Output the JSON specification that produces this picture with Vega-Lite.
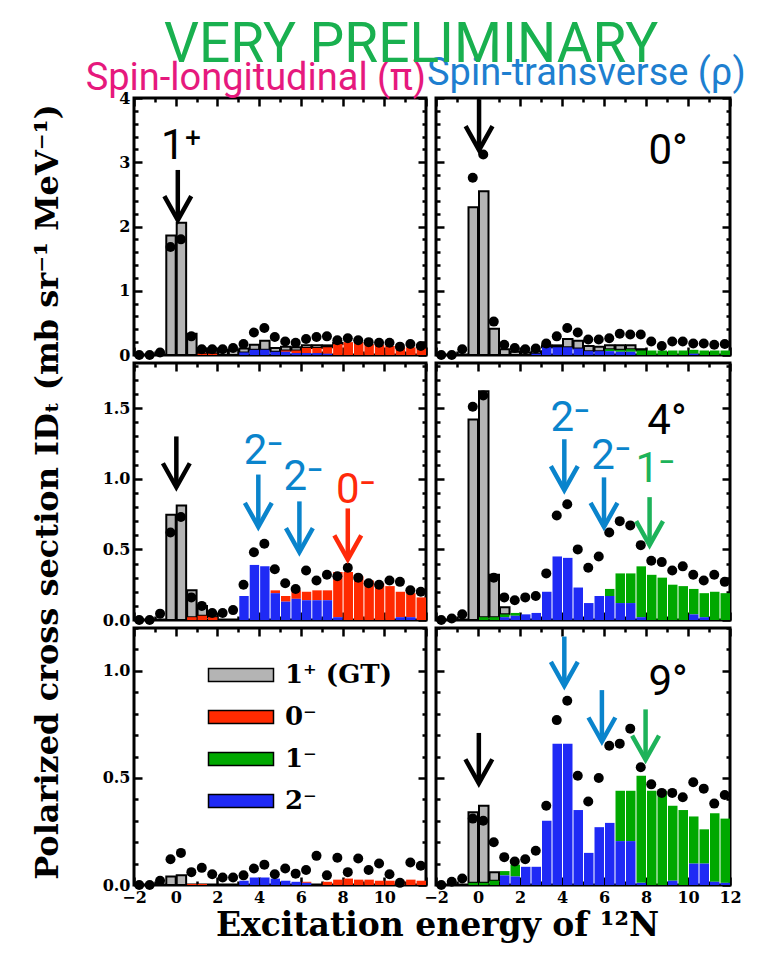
{
"$schema":"https://vega.github.io/schema/vega-lite/v6.json",
"background":"white",
"padding":{"left":29,"top":18,"right":2,"bottom":10},
"bounds":"flush",
"columns":2,
"spacing":{"row":8,"column":10},
"title":{"text":"VERY PRELIMINARY","font":"Roboto","fontSize":55,"fontWeight":"normal","color":"#19b04f","anchor":"start","frame":"group","dx":30,"offset":-21},
"resolve":{"scale":{"fill":"independent","stroke":"independent","color":"independent"}},
"datasets":{
"bins":[
{"p":"0L","lo":-0.5,"hi":0,"GT":1.86},{"p":"0L","lo":0,"hi":0.5,"GT":2.06},{"p":"0L","lo":0.5,"hi":1,"GT":0.33},{"p":"0L","lo":1,"hi":1.5,"GT":0.08,"J0":0.02},{"p":"0L","lo":1.5,"hi":2,"GT":0.07,"J0":0.02},{"p":"0L","lo":2,"hi":2.5,"GT":0.08},{"p":"0L","lo":2.5,"hi":3,"GT":0.08},{"p":"0L","lo":3,"hi":3.5,"GT":0.06,"J2":0.04},{"p":"0L","lo":3.5,"hi":4,"GT":0.08,"J2":0.08},{"p":"0L","lo":4,"hi":4.5,"GT":0.14,"J2":0.08},{"p":"0L","lo":4.5,"hi":5,"GT":0.06,"J2":0.05},{"p":"0L","lo":5,"hi":5.5,"GT":0.06,"J0":0.02,"J2":0.05},{"p":"0L","lo":5.5,"hi":6,"GT":0.05,"J0":0.04,"J2":0.03},{"p":"0L","lo":6,"hi":6.5,"GT":0.04,"J0":0.08,"J2":0.03},{"p":"0L","lo":6.5,"hi":7,"GT":0.04,"J0":0.08,"J2":0.03},{"p":"0L","lo":7,"hi":7.5,"GT":0.03,"J0":0.1,"J2":0.02},{"p":"0L","lo":7.5,"hi":8,"GT":0.02,"J0":0.17},{"p":"0L","lo":8,"hi":8.5,"J0":0.2},{"p":"0L","lo":8.5,"hi":9,"J0":0.2},{"p":"0L","lo":9,"hi":9.5,"J0":0.17},{"p":"0L","lo":9.5,"hi":10,"J0":0.16},{"p":"0L","lo":10,"hi":10.5,"J0":0.14},{"p":"0L","lo":10.5,"hi":11,"J0":0.12},{"p":"0L","lo":11,"hi":11.5,"J0":0.12},{"p":"0L","lo":11.5,"hi":12,"J0":0.1},
{"p":"0R","lo":-0.5,"hi":0,"GT":2.3},{"p":"0R","lo":0,"hi":0.5,"GT":2.55},{"p":"0R","lo":0.5,"hi":1,"GT":0.41},{"p":"0R","lo":1,"hi":1.5,"GT":0.09},{"p":"0R","lo":1.5,"hi":2,"GT":0.05},{"p":"0R","lo":2,"hi":2.5,"GT":0.04},{"p":"0R","lo":2.5,"hi":3,"GT":0.04,"J2":0.02},{"p":"0R","lo":3,"hi":3.5,"GT":0.03,"J2":0.12},{"p":"0R","lo":3.5,"hi":4,"GT":0.03,"J2":0.12},{"p":"0R","lo":4,"hi":4.5,"GT":0.13,"J2":0.12},{"p":"0R","lo":4.5,"hi":5,"GT":0.12,"J2":0.1},{"p":"0R","lo":5,"hi":5.5,"GT":0.08,"J2":0.06},{"p":"0R","lo":5.5,"hi":6,"GT":0.07,"J2":0.06},{"p":"0R","lo":6,"hi":6.5,"GT":0.06,"J1":0.03,"J2":0.06},{"p":"0R","lo":6.5,"hi":7,"GT":0.07,"J1":0.03,"J2":0.05},{"p":"0R","lo":7,"hi":7.5,"GT":0.06,"J1":0.04,"J2":0.05},{"p":"0R","lo":7.5,"hi":8,"GT":0.02,"J1":0.07},{"p":"0R","lo":8,"hi":8.5,"J1":0.07},{"p":"0R","lo":8.5,"hi":9,"J1":0.07},{"p":"0R","lo":9,"hi":9.5,"J1":0.07},{"p":"0R","lo":9.5,"hi":10,"J1":0.07},{"p":"0R","lo":10,"hi":10.5,"J1":0.06,"J2":0.02},{"p":"0R","lo":10.5,"hi":11,"J1":0.07},{"p":"0R","lo":11,"hi":11.5,"J1":0.07},{"p":"0R","lo":11.5,"hi":12,"J1":0.07},
{"p":"4L","lo":-0.5,"hi":0,"GT":0.745},{"p":"4L","lo":0,"hi":0.5,"GT":0.81},{"p":"4L","lo":0.5,"hi":1,"GT":0.19,"J0":0.02},{"p":"4L","lo":1,"hi":1.5,"GT":0.07,"J0":0.03},{"p":"4L","lo":1.5,"hi":2,"GT":0.02,"J0":0.02},{"p":"4L","lo":3,"hi":3.5,"J2":0.17},{"p":"4L","lo":3.5,"hi":4,"J2":0.39},{"p":"4L","lo":4,"hi":4.5,"J2":0.38},{"p":"4L","lo":4.5,"hi":5,"J2":0.19,"J0":0.02},{"p":"4L","lo":5,"hi":5.5,"J2":0.13,"J0":0.04},{"p":"4L","lo":5.5,"hi":6,"J2":0.15,"J0":0.06},{"p":"4L","lo":6,"hi":6.5,"J2":0.14,"J0":0.06},{"p":"4L","lo":6.5,"hi":7,"J2":0.14,"J0":0.07},{"p":"4L","lo":7,"hi":7.5,"J2":0.14,"J0":0.07},{"p":"4L","lo":7.5,"hi":8,"J2":0.02,"J0":0.32},{"p":"4L","lo":8,"hi":8.5,"J0":0.34},{"p":"4L","lo":8.5,"hi":9,"J0":0.31},{"p":"4L","lo":9,"hi":9.5,"J0":0.28},{"p":"4L","lo":9.5,"hi":10,"J0":0.26},{"p":"4L","lo":10,"hi":10.5,"J0":0.24},{"p":"4L","lo":10.5,"hi":11,"J0":0.18,"J2":0.02},{"p":"4L","lo":11,"hi":11.5,"J0":0.17,"J2":0.02},{"p":"4L","lo":11.5,"hi":12,"J0":0.16},
{"p":"4R","lo":-0.5,"hi":0,"GT":1.42},{"p":"4R","lo":0,"hi":0.5,"GT":1.6,"J1":0.02},{"p":"4R","lo":0.5,"hi":1,"GT":0.3,"J1":0.02},{"p":"4R","lo":1,"hi":1.5,"GT":0.05,"J1":0.02,"J2":0.02},{"p":"4R","lo":1.5,"hi":2,"J1":0.02,"J2":0.03},{"p":"4R","lo":2,"hi":2.5,"J2":0.04},{"p":"4R","lo":2.5,"hi":3,"J2":0.05},{"p":"4R","lo":3,"hi":3.5,"J2":0.2},{"p":"4R","lo":3.5,"hi":4,"J2":0.45},{"p":"4R","lo":4,"hi":4.5,"J2":0.44},{"p":"4R","lo":4.5,"hi":5,"J2":0.23},{"p":"4R","lo":5,"hi":5.5,"J2":0.12},{"p":"4R","lo":5.5,"hi":6,"J2":0.17},{"p":"4R","lo":6,"hi":6.5,"J2":0.17,"J1":0.05},{"p":"4R","lo":6.5,"hi":7,"J2":0.12,"J1":0.21},{"p":"4R","lo":7,"hi":7.5,"J2":0.12,"J1":0.21},{"p":"4R","lo":7.5,"hi":8,"J2":0.02,"J1":0.36},{"p":"4R","lo":8,"hi":8.5,"J1":0.32},{"p":"4R","lo":8.5,"hi":9,"J1":0.3},{"p":"4R","lo":9,"hi":9.5,"J1":0.25},{"p":"4R","lo":9.5,"hi":10,"J1":0.24},{"p":"4R","lo":10,"hi":10.5,"J1":0.18,"J2":0.04},{"p":"4R","lo":10.5,"hi":11,"J1":0.17,"J2":0.02},{"p":"4R","lo":11,"hi":11.5,"J1":0.2},{"p":"4R","lo":11.5,"hi":12,"J1":0.19},
{"p":"9L","lo":-0.5,"hi":0,"GT":0.04},{"p":"9L","lo":0,"hi":0.5,"GT":0.045},{"p":"9L","lo":0.5,"hi":1,"J0":0.005},{"p":"9L","lo":1,"hi":1.5,"J0":0.005},{"p":"9L","lo":3,"hi":3.5,"J2":0.02},{"p":"9L","lo":3.5,"hi":4,"J2":0.035},{"p":"9L","lo":4,"hi":4.5,"J2":0.035},{"p":"9L","lo":4.5,"hi":5,"J2":0.03},{"p":"9L","lo":5,"hi":5.5,"J2":0.02},{"p":"9L","lo":5.5,"hi":6,"J2":0.015},{"p":"9L","lo":6,"hi":6.5,"J2":0.01,"J0":0.005},{"p":"9L","lo":7,"hi":7.5,"J0":0.015},{"p":"9L","lo":7.5,"hi":8,"J0":0.025},{"p":"9L","lo":8,"hi":8.5,"J0":0.03},{"p":"9L","lo":8.5,"hi":9,"J0":0.025},{"p":"9L","lo":9,"hi":9.5,"J0":0.025},{"p":"9L","lo":9.5,"hi":10,"J0":0.02},{"p":"9L","lo":10,"hi":10.5,"J0":0.02},{"p":"9L","lo":10.5,"hi":11,"J0":0.02},{"p":"9L","lo":11,"hi":11.5,"J0":0.025},{"p":"9L","lo":11.5,"hi":12,"J0":0.02},
{"p":"9R","lo":-0.5,"hi":0,"GT":0.33,"J1":0.01},{"p":"9R","lo":0,"hi":0.5,"GT":0.36,"J1":0.01},{"p":"9R","lo":0.5,"hi":1,"GT":0.04,"J1":0.02},{"p":"9R","lo":1,"hi":1.5,"J2":0.045,"J1":0.02},{"p":"9R","lo":1.5,"hi":2,"J2":0.04,"J1":0.055},{"p":"9R","lo":2,"hi":2.5,"J2":0.085},{"p":"9R","lo":2.5,"hi":3,"J2":0.085},{"p":"9R","lo":3,"hi":3.5,"J2":0.3},{"p":"9R","lo":3.5,"hi":4,"J2":0.66},{"p":"9R","lo":4,"hi":4.5,"J2":0.66},{"p":"9R","lo":4.5,"hi":5,"J2":0.35},{"p":"9R","lo":5,"hi":5.5,"J2":0.15},{"p":"9R","lo":5.5,"hi":6,"J2":0.27},{"p":"9R","lo":6,"hi":6.5,"J2":0.29},{"p":"9R","lo":6.5,"hi":7,"J2":0.205,"J1":0.235},{"p":"9R","lo":7,"hi":7.5,"J2":0.205,"J1":0.235},{"p":"9R","lo":7.5,"hi":8,"J2":0.01,"J1":0.5},{"p":"9R","lo":8,"hi":8.5,"J1":0.44},{"p":"9R","lo":8.5,"hi":9,"J1":0.44},{"p":"9R","lo":9,"hi":9.5,"J2":0.02,"J1":0.35},{"p":"9R","lo":9.5,"hi":10,"J1":0.35},{"p":"9R","lo":10,"hi":10.5,"J2":0.1,"J1":0.22},{"p":"9R","lo":10.5,"hi":11,"J2":0.1,"J1":0.16},{"p":"9R","lo":11,"hi":11.5,"J2":0.015,"J1":0.32},{"p":"9R","lo":11.5,"hi":12,"J2":0.01,"J1":0.3}
],
"dots":[
{"p":"0L","e":-1.75,"v":0},{"p":"0L","e":-1.25,"v":0},{"p":"0L","e":-0.75,"v":0.04},{"p":"0L","e":-0.25,"v":1.68},{"p":"0L","e":0.25,"v":1.8},{"p":"0L","e":0.75,"v":0.29},{"p":"0L","e":1.25,"v":0.09},{"p":"0L","e":1.75,"v":0.09},{"p":"0L","e":2.25,"v":0.09},{"p":"0L","e":2.75,"v":0.11},{"p":"0L","e":3.25,"v":0.17},{"p":"0L","e":3.75,"v":0.35},{"p":"0L","e":4.25,"v":0.42},{"p":"0L","e":4.75,"v":0.28},{"p":"0L","e":5.25,"v":0.21},{"p":"0L","e":5.75,"v":0.19},{"p":"0L","e":6.25,"v":0.25},{"p":"0L","e":6.75,"v":0.28},{"p":"0L","e":7.25,"v":0.29},{"p":"0L","e":7.75,"v":0.23},{"p":"0L","e":8.25,"v":0.26},{"p":"0L","e":8.75,"v":0.23},{"p":"0L","e":9.25,"v":0.2},{"p":"0L","e":9.75,"v":0.19},{"p":"0L","e":10.25,"v":0.19},{"p":"0L","e":10.75,"v":0.13},{"p":"0L","e":11.25,"v":0.17},{"p":"0L","e":11.75,"v":0.14},
{"p":"0R","e":-1.75,"v":0},{"p":"0R","e":-1.25,"v":0},{"p":"0R","e":-0.75,"v":0.09},{"p":"0R","e":-0.25,"v":2.76},{"p":"0R","e":0.25,"v":3.12},{"p":"0R","e":0.75,"v":0.52},{"p":"0R","e":1.25,"v":0.16},{"p":"0R","e":1.75,"v":0.11},{"p":"0R","e":2.25,"v":0.09},{"p":"0R","e":2.75,"v":0.1},{"p":"0R","e":3.25,"v":0.18},{"p":"0R","e":3.75,"v":0.29},{"p":"0R","e":4.25,"v":0.42},{"p":"0R","e":4.75,"v":0.35},{"p":"0R","e":5.25,"v":0.24},{"p":"0R","e":5.75,"v":0.24},{"p":"0R","e":6.25,"v":0.26},{"p":"0R","e":6.75,"v":0.33},{"p":"0R","e":7.25,"v":0.32},{"p":"0R","e":7.75,"v":0.32},{"p":"0R","e":8.25,"v":0.21},{"p":"0R","e":8.75,"v":0.14},{"p":"0R","e":9.25,"v":0.21},{"p":"0R","e":9.75,"v":0.21},{"p":"0R","e":10.25,"v":0.18},{"p":"0R","e":10.75,"v":0.18},{"p":"0R","e":11.25,"v":0.16},{"p":"0R","e":11.75,"v":0.17},
{"p":"4L","e":-1.75,"v":0},{"p":"4L","e":-1.25,"v":0},{"p":"4L","e":-0.75,"v":0.045},{"p":"4L","e":-0.25,"v":0.62},{"p":"4L","e":0.25,"v":0.73},{"p":"4L","e":0.75,"v":0.16},{"p":"4L","e":1.25,"v":0.1},{"p":"4L","e":1.75,"v":0.05},{"p":"4L","e":2.25,"v":0.05},{"p":"4L","e":2.75,"v":0.07},{"p":"4L","e":3.25,"v":0.25},{"p":"4L","e":3.75,"v":0.48},{"p":"4L","e":4.25,"v":0.54},{"p":"4L","e":4.75,"v":0.36},{"p":"4L","e":5.25,"v":0.26},{"p":"4L","e":5.75,"v":0.22},{"p":"4L","e":6.25,"v":0.35},{"p":"4L","e":6.75,"v":0.28},{"p":"4L","e":7.25,"v":0.32},{"p":"4L","e":7.75,"v":0.31},{"p":"4L","e":8.25,"v":0.37},{"p":"4L","e":8.75,"v":0.3},{"p":"4L","e":9.25,"v":0.26},{"p":"4L","e":9.75,"v":0.25},{"p":"4L","e":10.25,"v":0.28},{"p":"4L","e":10.75,"v":0.27},{"p":"4L","e":11.25,"v":0.21},{"p":"4L","e":11.75,"v":0.2},
{"p":"4R","e":-1.75,"v":0},{"p":"4R","e":-1.25,"v":0.01},{"p":"4R","e":-0.75,"v":0.04},{"p":"4R","e":-0.25,"v":1.51},{"p":"4R","e":0.25,"v":1.59},{"p":"4R","e":0.75,"v":0.3},{"p":"4R","e":1.25,"v":0.16},{"p":"4R","e":1.75,"v":0.14},{"p":"4R","e":2.25,"v":0.16},{"p":"4R","e":2.75,"v":0.17},{"p":"4R","e":3.25,"v":0.33},{"p":"4R","e":3.75,"v":0.74},{"p":"4R","e":4.25,"v":0.82},{"p":"4R","e":4.75,"v":0.5},{"p":"4R","e":5.25,"v":0.37},{"p":"4R","e":5.75,"v":0.45},{"p":"4R","e":6.25,"v":0.62},{"p":"4R","e":6.75,"v":0.7},{"p":"4R","e":7.25,"v":0.67},{"p":"4R","e":7.75,"v":0.53},{"p":"4R","e":8.25,"v":0.42},{"p":"4R","e":8.75,"v":0.41},{"p":"4R","e":9.25,"v":0.35},{"p":"4R","e":9.75,"v":0.38},{"p":"4R","e":10.25,"v":0.32},{"p":"4R","e":10.75,"v":0.28},{"p":"4R","e":11.25,"v":0.32},{"p":"4R","e":11.75,"v":0.27},
{"p":"9L","e":-1.75,"v":0},{"p":"9L","e":-1.25,"v":0},{"p":"9L","e":-0.75,"v":0.02},{"p":"9L","e":-0.25,"v":0.12},{"p":"9L","e":0.25,"v":0.15},{"p":"9L","e":0.75,"v":0.06},{"p":"9L","e":1.25,"v":0.08},{"p":"9L","e":1.75,"v":0.05},{"p":"9L","e":2.25,"v":0.035},{"p":"9L","e":2.75,"v":0.035},{"p":"9L","e":3.25,"v":0.045},{"p":"9L","e":3.75,"v":0.077},{"p":"9L","e":4.25,"v":0.095},{"p":"9L","e":4.75,"v":0.05},{"p":"9L","e":5.25,"v":0.077},{"p":"9L","e":5.75,"v":0.053},{"p":"9L","e":6.25,"v":0.07},{"p":"9L","e":6.75,"v":0.136},{"p":"9L","e":7.25,"v":0.045},{"p":"9L","e":7.75,"v":0.127},{"p":"9L","e":8.25,"v":0.06},{"p":"9L","e":8.75,"v":0.124},{"p":"9L","e":9.25,"v":0.07},{"p":"9L","e":9.75,"v":0.1},{"p":"9L","e":10.25,"v":0.05},{"p":"9L","e":10.75,"v":0.01},{"p":"9L","e":11.25,"v":0.105},{"p":"9L","e":11.75,"v":0.09},
{"p":"9R","e":-1.75,"v":0},{"p":"9R","e":-1.25,"v":0.015},{"p":"9R","e":-0.75,"v":0.03},{"p":"9R","e":-0.25,"v":0.31},{"p":"9R","e":0.25,"v":0.3},{"p":"9R","e":0.75,"v":0.2},{"p":"9R","e":1.25,"v":0.13},{"p":"9R","e":1.75,"v":0.11},{"p":"9R","e":2.25,"v":0.12},{"p":"9R","e":2.75,"v":0.16},{"p":"9R","e":3.25,"v":0.37},{"p":"9R","e":3.75,"v":0.77},{"p":"9R","e":4.25,"v":0.86},{"p":"9R","e":4.75,"v":0.51},{"p":"9R","e":5.25,"v":0.39},{"p":"9R","e":5.75,"v":0.5},{"p":"9R","e":6.25,"v":0.65},{"p":"9R","e":6.75,"v":0.66},{"p":"9R","e":7.25,"v":0.73},{"p":"9R","e":7.75,"v":0.55},{"p":"9R","e":8.25,"v":0.47},{"p":"9R","e":8.75,"v":0.43},{"p":"9R","e":9.25,"v":0.43},{"p":"9R","e":9.75,"v":0.41},{"p":"9R","e":10.25,"v":0.48},{"p":"9R","e":10.75,"v":0.45},{"p":"9R","e":11.25,"v":0.38},{"p":"9R","e":11.75,"v":0.42}
],
"arrows":[
{"p":"0L","kind":"GT","x":0.1,"y":2.88,"tip":2.1},
{"p":"0R","kind":"GT","x":0.05,"y":3.98,"tip":3.19},
{"p":"4L","kind":"GT","x":0.03,"y":1.3,"tip":0.94},
{"p":"4L","kind":"J2","x":3.96,"y":1.03,"tip":0.66},
{"p":"4L","kind":"J2","x":5.93,"y":0.84,"tip":0.48},
{"p":"4L","kind":"J0","x":8.25,"y":0.79,"tip":0.43},
{"p":"4R","kind":"J2","x":4.11,"y":1.28,"tip":0.92},
{"p":"4R","kind":"J2","x":6.0,"y":1.01,"tip":0.66},
{"p":"4R","kind":"J1","x":8.17,"y":0.87,"tip":0.53},
{"p":"9R","kind":"GT","x":0.04,"y":0.71,"tip":0.475},
{"p":"9R","kind":"J2","x":4.11,"y":1.16,"tip":0.93},
{"p":"9R","kind":"J2","x":5.9,"y":0.91,"tip":0.67},
{"p":"9R","kind":"J1","x":7.98,"y":0.82,"tip":0.585}
],
"labels":[
{"p":"0L","kind":"GT","x":0.26,"y":3.25,"t":"1⁺"},
{"p":"0R","kind":"ang","x":9.05,"y":3.17,"t":"0°"},
{"p":"4L","kind":"J2","x":4.2,"y":1.2,"t":"2⁻"},
{"p":"4L","kind":"J2","x":6.11,"y":1.01,"t":"2⁻"},
{"p":"4L","kind":"J0","x":8.63,"y":0.92,"t":"0⁻"},
{"p":"4R","kind":"J2","x":4.38,"y":1.43,"t":"2⁻"},
{"p":"4R","kind":"J2","x":6.33,"y":1.16,"t":"2⁻"},
{"p":"4R","kind":"J1","x":8.43,"y":1.07,"t":"1⁻"},
{"p":"4R","kind":"ang","x":9.0,"y":1.41,"t":"4°"},
{"p":"9R","kind":"ang","x":9.05,"y":0.95,"t":"9°"}
]
},
"concat":[
{"width":292,"height":257,
"title":{"text":"Spin-longitudinal (π)","anchor":"end","frame":"group","color":"#e6197d","font":"Roboto","fontSize":38,"fontWeight":"normal","offset":-8},
"resolve":{"axis":{"x":"independent","y":"independent"}},
"layer":[
{"data":{"name":"bins"},"transform":[{"filter":"datum.p === '0L'"},{"fold":["GT","J0","J1","J2"],"as":["comp","v"]},{"filter":"datum.v > 0"}],
"mark":{"type":"bar","stroke":"black"},
"encoding":{
"x":{"field":"lo","type":"quantitative","bin":"binned","scale":{"domain":[-2,12],"nice":false,"zero":false},"axis":{"orient":"bottom","values":[-2,-1,0,1,2,3,4,5,6,7,8,9,10,11,12],"labels":false,"tickSize":{"condition":{"test":"datum.value % 2 === 0","value":-8},"value":-4},"title":null}},
"x2":{"field":"hi"},
"y":{"field":"v","type":"quantitative","stack":"zero","scale":{"domain":[0,4],"nice":false},"axis":{"orient":"left","values":[0,0.2,0.4,0.6,0.8,1,1.2,1.4,1.6,1.8,2,2.2,2.4,2.6,2.8,3,3.2,3.4,3.6,3.8,4],"labelExpr":"abs(datum.value - round(datum.value)) < 0.01 ? format(datum.value, '.0f') : ''","tickSize":{"condition":{"test":"abs(datum.value - round(datum.value)) < 0.01","value":-8},"value":-4},"title":null}},
"fill":{"field":"comp","type":"nominal","scale":{"domain":["GT","J0","J1","J2"],"range":["#b4b4b4","#ff2a00","#00a800","#1f2af5"]},"legend":null},
"strokeWidth":{"condition":{"test":"datum.comp === 'GT'","value":2},"value":0},
"order":{"field":"comp","sort":"descending"}}},
{"data":{"name":"dots"},"transform":[{"filter":"datum.p === '0L'"}],
"mark":{"type":"point","filled":true,"size":100,"color":"black","opacity":1},
"encoding":{
"x":{"field":"e","type":"quantitative","axis":{"orient":"top","values":[-2,-1,0,1,2,3,4,5,6,7,8,9,10,11,12],"labels":false,"tickSize":{"condition":{"test":"datum.value % 2 === 0","value":-8},"value":-4},"title":null}},
"y":{"field":"v","type":"quantitative","axis":{"orient":"right","values":[0,0.2,0.4,0.6,0.8,1,1.2,1.4,1.6,1.8,2,2.2,2.4,2.6,2.8,3,3.2,3.4,3.6,3.8,4],"labels":false,"tickSize":{"condition":{"test":"abs(datum.value - round(datum.value)) < 0.01","value":-8},"value":-4},"title":null}}}},
{"data":{"name":"arrows"},"transform":[{"filter":"datum.p === '0L'"}],
"mark":{"type":"rule","strokeWidth":4.5},
"encoding":{"x":{"field":"x","type":"quantitative","axis":null},"y":{"field":"y","type":"quantitative","axis":null},"y2":{"field":"tip"},
"stroke":{"field":"kind","type":"nominal","scale":{"domain":["GT","J0","J1","J2"],"range":["#000000","#ff2a0a","#1db35a","#0a84cc"]},"legend":null}}},
{"data":{"name":"arrows"},"transform":[{"filter":"datum.p === '0L'"}],
"mark":{"type":"point","shape":"M-0.56,-1L0,0L0.56,-1","filled":false,"size":2304,"strokeWidth":4.5,"opacity":1,"strokeJoin":"miter"},
"encoding":{"x":{"field":"x","type":"quantitative","axis":null},"y":{"field":"tip","type":"quantitative","axis":null},
"stroke":{"field":"kind","type":"nominal","scale":{"domain":["GT","J0","J1","J2"],"range":["#000000","#ff2a0a","#1db35a","#0a84cc"]},"legend":null}}},
{"data":{"name":"labels"},"transform":[{"filter":"datum.p === '0L'"}],
"mark":{"type":"text","font":"Roboto","fontSize":42,"align":"center","baseline":"middle"},
"encoding":{"x":{"field":"x","type":"quantitative","axis":null},"y":{"field":"y","type":"quantitative","axis":null},"text":{"field":"t"},
"color":{"field":"kind","type":"nominal","scale":{"domain":["GT","J0","J1","J2","ang"],"range":["#000000","#ff2a0a","#1db35a","#0a84cc","#000000"]},"legend":null}}}
]},
{"width":294,"height":257,
"title":{"text":"Spin-transverse (ρ)","anchor":"start","frame":"group","color":"#1e7fd0","font":"Roboto","fontSize":38,"fontWeight":"normal","offset":4,"dx":-9},
"resolve":{"axis":{"x":"independent","y":"independent"}},
"layer":[
{"data":{"name":"bins"},"transform":[{"filter":"datum.p === '0R'"},{"fold":["GT","J0","J1","J2"],"as":["comp","v"]},{"filter":"datum.v > 0"}],
"mark":{"type":"bar","stroke":"black"},
"encoding":{
"x":{"field":"lo","type":"quantitative","bin":"binned","scale":{"domain":[-2,12],"nice":false,"zero":false},"axis":{"orient":"bottom","values":[-2,-1,0,1,2,3,4,5,6,7,8,9,10,11,12],"labels":false,"tickSize":{"condition":{"test":"datum.value % 2 === 0","value":-8},"value":-4},"title":null}},
"x2":{"field":"hi"},
"y":{"field":"v","type":"quantitative","stack":"zero","scale":{"domain":[0,4],"nice":false},"axis":{"orient":"left","values":[0,0.2,0.4,0.6,0.8,1,1.2,1.4,1.6,1.8,2,2.2,2.4,2.6,2.8,3,3.2,3.4,3.6,3.8,4],"labels":false,"tickSize":{"condition":{"test":"abs(datum.value - round(datum.value)) < 0.01","value":-8},"value":-4},"title":null}},
"fill":{"field":"comp","type":"nominal","scale":{"domain":["GT","J0","J1","J2"],"range":["#b4b4b4","#ff2a00","#00a800","#1f2af5"]},"legend":null},
"strokeWidth":{"condition":{"test":"datum.comp === 'GT'","value":2},"value":0},
"order":{"field":"comp","sort":"descending"}}},
{"data":{"name":"dots"},"transform":[{"filter":"datum.p === '0R'"}],
"mark":{"type":"point","filled":true,"size":100,"color":"black","opacity":1},
"encoding":{
"x":{"field":"e","type":"quantitative","axis":{"orient":"top","values":[-2,-1,0,1,2,3,4,5,6,7,8,9,10,11,12],"labels":false,"tickSize":{"condition":{"test":"datum.value % 2 === 0","value":-8},"value":-4},"title":null}},
"y":{"field":"v","type":"quantitative","axis":{"orient":"right","values":[0,0.2,0.4,0.6,0.8,1,1.2,1.4,1.6,1.8,2,2.2,2.4,2.6,2.8,3,3.2,3.4,3.6,3.8,4],"labels":false,"tickSize":{"condition":{"test":"abs(datum.value - round(datum.value)) < 0.01","value":-8},"value":-4},"title":null}}}},
{"data":{"name":"arrows"},"transform":[{"filter":"datum.p === '0R'"}],
"mark":{"type":"rule","strokeWidth":4.5},
"encoding":{"x":{"field":"x","type":"quantitative","axis":null},"y":{"field":"y","type":"quantitative","axis":null},"y2":{"field":"tip"},
"stroke":{"field":"kind","type":"nominal","scale":{"domain":["GT","J0","J1","J2"],"range":["#000000","#ff2a0a","#1db35a","#0a84cc"]},"legend":null}}},
{"data":{"name":"arrows"},"transform":[{"filter":"datum.p === '0R'"}],
"mark":{"type":"point","shape":"M-0.56,-1L0,0L0.56,-1","filled":false,"size":2304,"strokeWidth":4.5,"opacity":1,"strokeJoin":"miter"},
"encoding":{"x":{"field":"x","type":"quantitative","axis":null},"y":{"field":"tip","type":"quantitative","axis":null},
"stroke":{"field":"kind","type":"nominal","scale":{"domain":["GT","J0","J1","J2"],"range":["#000000","#ff2a0a","#1db35a","#0a84cc"]},"legend":null}}},
{"data":{"name":"labels"},"transform":[{"filter":"datum.p === '0R'"}],
"mark":{"type":"text","font":"Roboto","fontSize":42,"align":"center","baseline":"middle"},
"encoding":{"x":{"field":"x","type":"quantitative","axis":null},"y":{"field":"y","type":"quantitative","axis":null},"text":{"field":"t"},
"color":{"field":"kind","type":"nominal","scale":{"domain":["GT","J0","J1","J2","ang"],"range":["#000000","#ff2a0a","#1db35a","#0a84cc","#000000"]},"legend":null}}}
]},
{"width":292,"height":257,
"resolve":{"axis":{"x":"independent","y":"independent"}},
"layer":[
{"data":{"name":"bins"},"transform":[{"filter":"datum.p === '4L'"},{"fold":["GT","J0","J1","J2"],"as":["comp","v"]},{"filter":"datum.v > 0"}],
"mark":{"type":"bar","stroke":"black"},
"encoding":{
"x":{"field":"lo","type":"quantitative","bin":"binned","scale":{"domain":[-2,12],"nice":false,"zero":false},"axis":{"orient":"bottom","values":[-2,-1,0,1,2,3,4,5,6,7,8,9,10,11,12],"labels":false,"tickSize":{"condition":{"test":"datum.value % 2 === 0","value":-8},"value":-4},"title":null}},
"x2":{"field":"hi"},
"y":{"field":"v","type":"quantitative","stack":"zero","scale":{"domain":[0,1.82],"nice":false},"axis":{"orient":"left","values":[0,0.1,0.2,0.3,0.4,0.5,0.6,0.7,0.8,0.9,1,1.1,1.2,1.3,1.4,1.5,1.6,1.7,1.8],"format":".1f","labelExpr":"abs(datum.value * 2 - round(datum.value * 2)) < 0.001 ? datum.label : ''","tickSize":{"condition":{"test":"abs(datum.value * 2 - round(datum.value * 2)) < 0.001","value":-8},"value":-4},"title":"Polarized cross section IDₜ (mb sr⁻¹ MeV⁻¹)","titleFontSize":32,"titlePadding":38}},
"fill":{"field":"comp","type":"nominal","scale":{"domain":["GT","J0","J1","J2"],"range":["#b4b4b4","#ff2a00","#00a800","#1f2af5"]},"legend":null},
"strokeWidth":{"condition":{"test":"datum.comp === 'GT'","value":2},"value":0},
"order":{"field":"comp","sort":"descending"}}},
{"data":{"name":"dots"},"transform":[{"filter":"datum.p === '4L'"}],
"mark":{"type":"point","filled":true,"size":100,"color":"black","opacity":1},
"encoding":{
"x":{"field":"e","type":"quantitative","axis":{"orient":"top","values":[-2,-1,0,1,2,3,4,5,6,7,8,9,10,11,12],"labels":false,"tickSize":{"condition":{"test":"datum.value % 2 === 0","value":-8},"value":-4},"title":null}},
"y":{"field":"v","type":"quantitative","axis":{"orient":"right","values":[0,0.1,0.2,0.3,0.4,0.5,0.6,0.7,0.8,0.9,1,1.1,1.2,1.3,1.4,1.5,1.6,1.7,1.8],"labels":false,"tickSize":{"condition":{"test":"abs(datum.value * 2 - round(datum.value * 2)) < 0.001","value":-8},"value":-4},"title":null}}}},
{"data":{"name":"arrows"},"transform":[{"filter":"datum.p === '4L'"}],
"mark":{"type":"rule","strokeWidth":4.5},
"encoding":{"x":{"field":"x","type":"quantitative","axis":null},"y":{"field":"y","type":"quantitative","axis":null},"y2":{"field":"tip"},
"stroke":{"field":"kind","type":"nominal","scale":{"domain":["GT","J0","J1","J2"],"range":["#000000","#ff2a0a","#1db35a","#0a84cc"]},"legend":null}}},
{"data":{"name":"arrows"},"transform":[{"filter":"datum.p === '4L'"}],
"mark":{"type":"point","shape":"M-0.56,-1L0,0L0.56,-1","filled":false,"size":2304,"strokeWidth":4.5,"opacity":1,"strokeJoin":"miter"},
"encoding":{"x":{"field":"x","type":"quantitative","axis":null},"y":{"field":"tip","type":"quantitative","axis":null},
"stroke":{"field":"kind","type":"nominal","scale":{"domain":["GT","J0","J1","J2"],"range":["#000000","#ff2a0a","#1db35a","#0a84cc"]},"legend":null}}},
{"data":{"name":"labels"},"transform":[{"filter":"datum.p === '4L'"}],
"mark":{"type":"text","font":"Roboto","fontSize":42,"align":"center","baseline":"middle"},
"encoding":{"x":{"field":"x","type":"quantitative","axis":null},"y":{"field":"y","type":"quantitative","axis":null},"text":{"field":"t"},
"color":{"field":"kind","type":"nominal","scale":{"domain":["GT","J0","J1","J2","ang"],"range":["#000000","#ff2a0a","#1db35a","#0a84cc","#000000"]},"legend":null}}}
]},
{"width":294,"height":257,
"resolve":{"axis":{"x":"independent","y":"independent"}},
"layer":[
{"data":{"name":"bins"},"transform":[{"filter":"datum.p === '4R'"},{"fold":["GT","J0","J1","J2"],"as":["comp","v"]},{"filter":"datum.v > 0"}],
"mark":{"type":"bar","stroke":"black"},
"encoding":{
"x":{"field":"lo","type":"quantitative","bin":"binned","scale":{"domain":[-2,12],"nice":false,"zero":false},"axis":{"orient":"bottom","values":[-2,-1,0,1,2,3,4,5,6,7,8,9,10,11,12],"labels":false,"tickSize":{"condition":{"test":"datum.value % 2 === 0","value":-8},"value":-4},"title":null}},
"x2":{"field":"hi"},
"y":{"field":"v","type":"quantitative","stack":"zero","scale":{"domain":[0,1.82],"nice":false},"axis":{"orient":"left","values":[0,0.1,0.2,0.3,0.4,0.5,0.6,0.7,0.8,0.9,1,1.1,1.2,1.3,1.4,1.5,1.6,1.7,1.8],"labels":false,"tickSize":{"condition":{"test":"abs(datum.value * 2 - round(datum.value * 2)) < 0.001","value":-8},"value":-4},"title":null}},
"fill":{"field":"comp","type":"nominal","scale":{"domain":["GT","J0","J1","J2"],"range":["#b4b4b4","#ff2a00","#00a800","#1f2af5"]},"legend":null},
"strokeWidth":{"condition":{"test":"datum.comp === 'GT'","value":2},"value":0},
"order":{"field":"comp","sort":"descending"}}},
{"data":{"name":"dots"},"transform":[{"filter":"datum.p === '4R'"}],
"mark":{"type":"point","filled":true,"size":100,"color":"black","opacity":1},
"encoding":{
"x":{"field":"e","type":"quantitative","axis":{"orient":"top","values":[-2,-1,0,1,2,3,4,5,6,7,8,9,10,11,12],"labels":false,"tickSize":{"condition":{"test":"datum.value % 2 === 0","value":-8},"value":-4},"title":null}},
"y":{"field":"v","type":"quantitative","axis":{"orient":"right","values":[0,0.1,0.2,0.3,0.4,0.5,0.6,0.7,0.8,0.9,1,1.1,1.2,1.3,1.4,1.5,1.6,1.7,1.8],"labels":false,"tickSize":{"condition":{"test":"abs(datum.value * 2 - round(datum.value * 2)) < 0.001","value":-8},"value":-4},"title":null}}}},
{"data":{"name":"arrows"},"transform":[{"filter":"datum.p === '4R'"}],
"mark":{"type":"rule","strokeWidth":4.5},
"encoding":{"x":{"field":"x","type":"quantitative","axis":null},"y":{"field":"y","type":"quantitative","axis":null},"y2":{"field":"tip"},
"stroke":{"field":"kind","type":"nominal","scale":{"domain":["GT","J0","J1","J2"],"range":["#000000","#ff2a0a","#1db35a","#0a84cc"]},"legend":null}}},
{"data":{"name":"arrows"},"transform":[{"filter":"datum.p === '4R'"}],
"mark":{"type":"point","shape":"M-0.56,-1L0,0L0.56,-1","filled":false,"size":2304,"strokeWidth":4.5,"opacity":1,"strokeJoin":"miter"},
"encoding":{"x":{"field":"x","type":"quantitative","axis":null},"y":{"field":"tip","type":"quantitative","axis":null},
"stroke":{"field":"kind","type":"nominal","scale":{"domain":["GT","J0","J1","J2"],"range":["#000000","#ff2a0a","#1db35a","#0a84cc"]},"legend":null}}},
{"data":{"name":"labels"},"transform":[{"filter":"datum.p === '4R'"}],
"mark":{"type":"text","font":"Roboto","fontSize":42,"align":"center","baseline":"middle"},
"encoding":{"x":{"field":"x","type":"quantitative","axis":null},"y":{"field":"y","type":"quantitative","axis":null},"text":{"field":"t"},
"color":{"field":"kind","type":"nominal","scale":{"domain":["GT","J0","J1","J2","ang"],"range":["#000000","#ff2a0a","#1db35a","#0a84cc","#000000"]},"legend":null}}}
]},
{"width":292,"height":257,
"resolve":{"axis":{"x":"independent","y":"independent"}},
"layer":[
{"data":{"name":"bins"},"transform":[{"filter":"datum.p === '9L'"},{"fold":["GT","J0","J1","J2"],"as":["comp","v"]},{"filter":"datum.v > 0"}],
"mark":{"type":"bar","stroke":"black"},
"encoding":{
"x":{"field":"lo","type":"quantitative","bin":"binned","scale":{"domain":[-2,12],"nice":false,"zero":false},"axis":{"orient":"bottom","values":[-2,-1,0,1,2,3,4,5,6,7,8,9,10,11,12],"labelExpr":"datum.value % 2 === 0 && datum.value < 11 ? datum.label : ''","tickSize":{"condition":{"test":"datum.value % 2 === 0","value":-8},"value":-4},"title":"Excitation energy of ¹²N","titleX":303,"titleAlign":"center","titleFontSize":33,"titlePadding":0}},
"x2":{"field":"hi"},
"y":{"field":"v","type":"quantitative","stack":"zero","scale":{"domain":[0,1.2],"nice":false},"axis":{"orient":"left","values":[0,0.1,0.2,0.3,0.4,0.5,0.6,0.7,0.8,0.9,1,1.1,1.2],"format":".1f","labelExpr":"abs(datum.value * 2 - round(datum.value * 2)) < 0.001 ? datum.label : ''","tickSize":{"condition":{"test":"abs(datum.value * 2 - round(datum.value * 2)) < 0.001","value":-8},"value":-4},"title":null}},
"fill":{"field":"comp","type":"nominal","scale":{"domain":["GT","J0","J1","J2"],"range":["#b4b4b4","#ff2a00","#00a800","#1f2af5"]},
"legend":{"orient":"top-right","offset":33,"title":null,"symbolType":"M-2.5,-0.5H2.5V0.5H-2.5Z","symbolSize":676,"labelFont":"DejaVu Serif","labelFontWeight":"bold","labelFontSize":26,"labelOffset":30,"rowPadding":15,
"labelExpr":"datum.label === 'GT' ? '1⁺ (GT)' : datum.label === 'J0' ? '0⁻' : datum.label === 'J1' ? '1⁻' : '2⁻'",
"encode":{"symbols":{"update":{"stroke":{"value":"black"},"strokeWidth":{"signal":"datum.value === 'GT' ? 3 : 0"}}},"labels":{"update":{"fill":{"signal":"datum.value === 'GT' ? '#000000' : datum.value === 'J0' ? '#ff2a00' : datum.value === 'J1' ? '#00a800' : '#1f2af5'"}}}}}},
"strokeWidth":{"condition":{"test":"datum.comp === 'GT'","value":2},"value":0},
"order":{"field":"comp","sort":"descending"}}},
{"data":{"name":"dots"},"transform":[{"filter":"datum.p === '9L'"}],
"mark":{"type":"point","filled":true,"size":100,"color":"black","opacity":1},
"encoding":{
"x":{"field":"e","type":"quantitative","axis":{"orient":"top","values":[-2,-1,0,1,2,3,4,5,6,7,8,9,10,11,12],"labels":false,"tickSize":{"condition":{"test":"datum.value % 2 === 0","value":-8},"value":-4},"title":null}},
"y":{"field":"v","type":"quantitative","axis":{"orient":"right","values":[0,0.1,0.2,0.3,0.4,0.5,0.6,0.7,0.8,0.9,1,1.1,1.2],"labels":false,"tickSize":{"condition":{"test":"abs(datum.value * 2 - round(datum.value * 2)) < 0.001","value":-8},"value":-4},"title":null}}}}
]},
{"width":294,"height":257,
"resolve":{"axis":{"x":"independent","y":"independent"}},
"layer":[
{"data":{"name":"bins"},"transform":[{"filter":"datum.p === '9R'"},{"fold":["GT","J0","J1","J2"],"as":["comp","v"]},{"filter":"datum.v > 0"}],
"mark":{"type":"bar","stroke":"black"},
"encoding":{
"x":{"field":"lo","type":"quantitative","bin":"binned","scale":{"domain":[-2,12],"nice":false,"zero":false},"axis":{"orient":"bottom","values":[-2,-1,0,1,2,3,4,5,6,7,8,9,10,11,12],"labelExpr":"datum.value % 2 === 0 ? datum.label : ''","tickSize":{"condition":{"test":"datum.value % 2 === 0","value":-8},"value":-4},"title":null}},
"x2":{"field":"hi"},
"y":{"field":"v","type":"quantitative","stack":"zero","scale":{"domain":[0,1.2],"nice":false},"axis":{"orient":"left","values":[0,0.1,0.2,0.3,0.4,0.5,0.6,0.7,0.8,0.9,1,1.1,1.2],"labels":false,"tickSize":{"condition":{"test":"abs(datum.value * 2 - round(datum.value * 2)) < 0.001","value":-8},"value":-4},"title":null}},
"fill":{"field":"comp","type":"nominal","scale":{"domain":["GT","J0","J1","J2"],"range":["#b4b4b4","#ff2a00","#00a800","#1f2af5"]},"legend":null},
"strokeWidth":{"condition":{"test":"datum.comp === 'GT'","value":2},"value":0},
"order":{"field":"comp","sort":"descending"}}},
{"data":{"name":"dots"},"transform":[{"filter":"datum.p === '9R'"}],
"mark":{"type":"point","filled":true,"size":100,"color":"black","opacity":1},
"encoding":{
"x":{"field":"e","type":"quantitative","axis":{"orient":"top","values":[-2,-1,0,1,2,3,4,5,6,7,8,9,10,11,12],"labels":false,"tickSize":{"condition":{"test":"datum.value % 2 === 0","value":-8},"value":-4},"title":null}},
"y":{"field":"v","type":"quantitative","axis":{"orient":"right","values":[0,0.1,0.2,0.3,0.4,0.5,0.6,0.7,0.8,0.9,1,1.1,1.2],"labels":false,"tickSize":{"condition":{"test":"abs(datum.value * 2 - round(datum.value * 2)) < 0.001","value":-8},"value":-4},"title":null}}}},
{"data":{"name":"arrows"},"transform":[{"filter":"datum.p === '9R'"}],
"mark":{"type":"rule","strokeWidth":4.5},
"encoding":{"x":{"field":"x","type":"quantitative","axis":null},"y":{"field":"y","type":"quantitative","axis":null},"y2":{"field":"tip"},
"stroke":{"field":"kind","type":"nominal","scale":{"domain":["GT","J0","J1","J2"],"range":["#000000","#ff2a0a","#1db35a","#0a84cc"]},"legend":null}}},
{"data":{"name":"arrows"},"transform":[{"filter":"datum.p === '9R'"}],
"mark":{"type":"point","shape":"M-0.56,-1L0,0L0.56,-1","filled":false,"size":2304,"strokeWidth":4.5,"opacity":1,"strokeJoin":"miter"},
"encoding":{"x":{"field":"x","type":"quantitative","axis":null},"y":{"field":"tip","type":"quantitative","axis":null},
"stroke":{"field":"kind","type":"nominal","scale":{"domain":["GT","J0","J1","J2"],"range":["#000000","#ff2a0a","#1db35a","#0a84cc"]},"legend":null}}},
{"data":{"name":"labels"},"transform":[{"filter":"datum.p === '9R'"}],
"mark":{"type":"text","font":"Roboto","fontSize":42,"align":"center","baseline":"middle"},
"encoding":{"x":{"field":"x","type":"quantitative","axis":null},"y":{"field":"y","type":"quantitative","axis":null},"text":{"field":"t"},
"color":{"field":"kind","type":"nominal","scale":{"domain":["GT","J0","J1","J2","ang"],"range":["#000000","#ff2a0a","#1db35a","#0a84cc","#000000"]},"legend":null}}}
]}
],
"config":{
"view":{"stroke":"black","strokeWidth":3},
"axis":{"domain":false,"grid":false,"tickColor":"black","tickWidth":2.5,"labelFont":"DejaVu Serif","labelFontWeight":"bold","labelFontSize":16,"labelColor":"black","labelPadding":12,"labelFlush":false,"labelOverlap":false,"titleFont":"DejaVu Serif","titleFontWeight":"bold","titleFontSize":29,"titleColor":"black","zindex":1}
}
}
